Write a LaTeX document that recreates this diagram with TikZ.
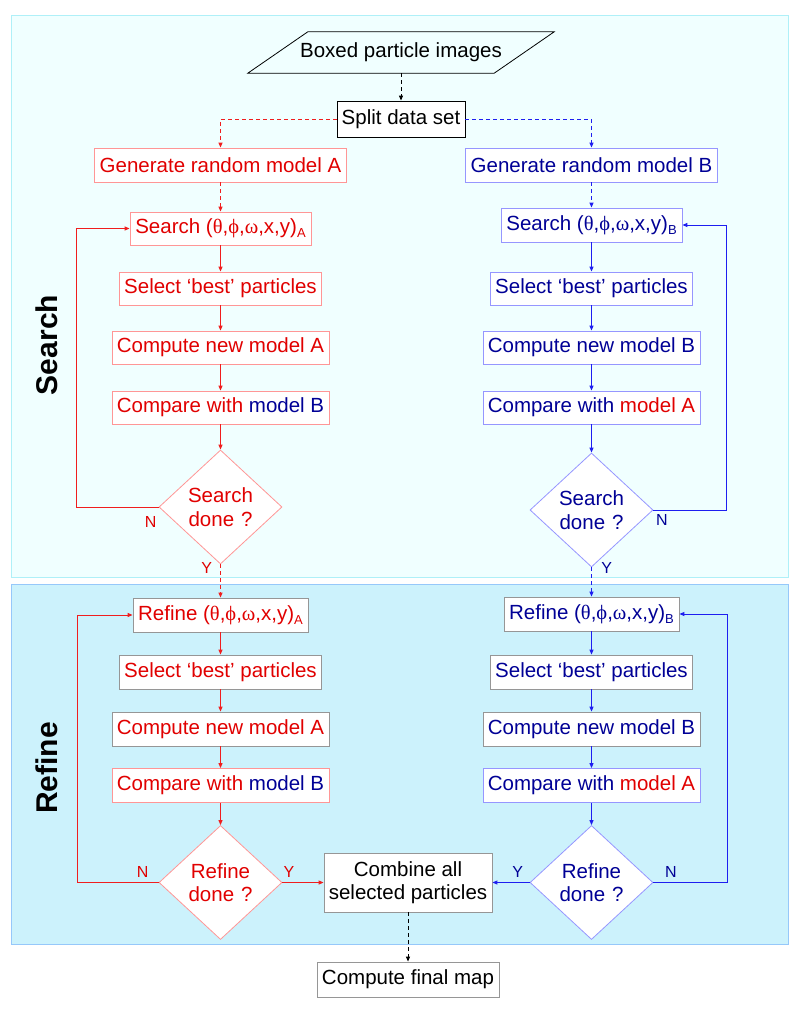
\documentclass[tikz,border=0pt]{standalone}
\usepackage{fontspec}
\setmainfont{Liberation Sans}
\newfontfamily\gkfont{Liberation Serif}
\usetikzlibrary{arrows.meta,shapes.geometric}
\definecolor{tred}{RGB}{225,0,0}
\definecolor{tblue}{RGB}{0,0,150}
\definecolor{rborder}{RGB}{255,150,150}
\definecolor{bborder}{RGB}{150,150,255}
\definecolor{gborder}{RGB}{150,150,150}
\definecolor{lred}{RGB}{240,30,30}
\definecolor{lblue}{RGB}{30,30,240}
\definecolor{searchbg}{RGB}{240,255,255}
\definecolor{searchbd}{RGB}{175,240,248}
\definecolor{refinebg}{RGB}{204,242,252}
\definecolor{refinebd}{RGB}{150,200,250}
\newcommand{\mysub}[1]{\raisebox{-4pt}{\fontsize{13}{13}\selectfont #1}}
\newcommand{\angles}{({\gkfont θ},{\gkfont ϕ},{\gkfont ω},x,y)}
\begin{document}
\begin{tikzpicture}[x=1pt,y=-1pt,
  txt/.style={font=\fontsize{20.5}{23.5}\selectfont},
  box/.style={txt, draw, fill=white, line width=0.8pt, inner sep=0pt, minimum height=34pt, align=center},
  rbox/.style={box, draw=rborder, text=tred},
  bbox/.style={box, draw=bborder, text=tblue},
  grbox/.style={box, draw=gborder, text=tred},
  gbbox/.style={box, draw=gborder, text=tblue},
  gbox/.style={box, draw=gborder, text=black},
  dia/.style={txt, diamond, draw, fill=white, line width=0.8pt, inner sep=0pt, minimum width=123pt, minimum height=114pt, aspect=1.08, text width=70pt, align=center},
  rdia/.style={dia, draw=rborder, text=tred},
  bdia/.style={dia, draw=bborder, text=tblue},
  arr/.style={line width=1pt, -{Triangle[length=5pt,width=4pt]}},
  rl/.style={arr, draw=lred},
  bl/.style={arr, draw=lblue},
  dsh/.style={dash pattern=on 4pt off 3pt},
  yn/.style={font=\fontsize{16}{16}\selectfont, inner sep=0pt},
  sect/.style={font=\fontsize{30}{30}\selectfont\bfseries, rotate=90, inner sep=0pt}
]
\useasboundingbox (0,0) rectangle (800,1009);
% panels
\draw[fill=searchbg, draw=searchbd, line width=1pt] (11,15) rectangle (788,577);
\draw[fill=refinebg, draw=refinebd, line width=1pt] (11,584) rectangle (788,944);
\node[sect] (lsearch) at (47,345) {Search};
\node[sect] (lrefine) at (47,768) {Refine};

% top
\node[txt, minimum width=246pt, minimum height=41pt, inner sep=0pt] (boxed) at (401,52.5) {Boxed particle images};
\draw[line width=0.8pt] ([xshift=-30pt]boxed.south west) -- ([xshift=30pt]boxed.north west) -- ([xshift=30pt]boxed.north east) -- ([xshift=-30pt]boxed.south east) -- cycle;
\node[box, draw=black, minimum width=128pt, minimum height=36pt] (split) at (401,119) {Split data set};
\node[rbox, minimum width=252pt] (genA) at (220.5,165) {Generate random model A};
\node[bbox, minimum width=252pt] (genB) at (591.5,165) {Generate random model B};

% search A
\node[rbox, minimum width=181pt, minimum height=33pt] (searchA) at (220.5,228.5) {Search \angles\mysub{A}};
\node[rbox, minimum width=202pt, minimum height=33pt] (selA) at (220.5,288.5) {Select ‘best’ particles};
\node[rbox, minimum width=217pt, minimum height=33pt] (compA) at (220.5,347.5) {Compute new model A};
\node[rbox, minimum width=217pt, minimum height=33pt] (cmpA) at (220.5,407.5) {Compare with {\color{tblue}model B}};
\node[rdia] (diamA) at (220.5,507) {Search\\done ?};

% search B
\node[bbox, minimum width=181pt] (searchB) at (591.5,225) {Search \angles\mysub{B}};
\node[bbox, minimum width=202pt, minimum height=33pt] (selB) at (591.5,288.5) {Select ‘best’ particles};
\node[bbox, minimum width=217pt, minimum height=33pt] (compB) at (591.5,347.5) {Compute new model B};
\node[bbox, minimum width=217pt, minimum height=33pt] (cmpB) at (591.5,407.5) {Compare with {\color{tred}model A}};
\node[bdia] (diamB) at (591.5,510) {Search\\done ?};

% refine A
\node[grbox, minimum width=175pt] (refA) at (220.5,615) {Refine \angles\mysub{A}};
\node[grbox, minimum width=202pt] (rselA) at (220.5,672) {Select ‘best’ particles};
\node[grbox, minimum width=217pt] (rcompA) at (220.5,729) {Compute new model A};
\node[rbox, minimum width=217pt] (rcmpA) at (220.5,785.5) {Compare with {\color{tblue}model B}};
\node[rdia] (rdiamA) at (220.5,882.5) {Refine\\done ?};

% refine B
\node[gbbox, minimum width=175pt] (refB) at (591.5,614) {Refine \angles\mysub{B}};
\node[gbbox, minimum width=202pt] (rselB) at (591.5,672) {Select ‘best’ particles};
\node[gbbox, minimum width=217pt] (rcompB) at (591.5,729) {Compute new model B};
\node[bbox, minimum width=217pt] (rcmpB) at (591.5,785.5) {Compare with {\color{tred}model A}};
\node[bdia] (rdiamB) at (591.5,882.5) {Refine\\done ?};

% combine / final
\node[gbox, minimum width=168pt, minimum height=59pt] (comb) at (408,882.5) {Combine all\\selected particles};
\node[gbox, minimum width=182pt, minimum height=35pt] (final) at (408,979.5) {Compute final map};

% connectors
\draw[arr, dsh, draw=black] (boxed) -- (split);
\draw[rl, dsh] (split.west) -| (genA.north);
\draw[bl, dsh] (split.east) -| (genB.north);
\draw[rl, dsh] (genA) -- (searchA);
\draw[bl, dsh] (genB) -- (searchB);
\draw[rl] (searchA) -- (selA);
\draw[rl] (selA) -- (compA);
\draw[rl] (compA) -- (cmpA);
\draw[rl] (cmpA) -- (diamA);
\draw[bl] (searchB) -- (selB);
\draw[bl] (selB) -- (compB);
\draw[bl] (compB) -- (cmpB);
\draw[bl] (cmpB) -- (diamB);
\draw[rl] (diamA.west) -- ++(-82,0) |- (searchA.west);
\draw[bl] (diamB.east) -- ++(73,0) |- (searchB.east);
\draw[rl, dsh] (diamA.south) -- (refA.north);
\draw[bl, dsh] (diamB.south) -- (refB.north);
\draw[rl] (refA) -- (rselA);
\draw[rl] (rselA) -- (rcompA);
\draw[rl] (rcompA) -- (rcmpA);
\draw[rl] (rcmpA) -- (rdiamA);
\draw[bl] (refB) -- (rselB);
\draw[bl] (rselB) -- (rcompB);
\draw[bl] (rcompB) -- (rcmpB);
\draw[bl] (rcmpB) -- (rdiamB);
\draw[rl] (rdiamA.west) -- ++(-81,0) |- (refA.west);
\draw[bl] (rdiamB.east) -- ++(74,0) |- (refB.east);
\draw[rl] (rdiamA.east) -- (comb.west);
\draw[bl] (rdiamB.west) -- (comb.east);
\draw[arr, dsh, draw=black] (comb) -- (final);

% Y/N labels
\node[yn, text=tred] (nA) at (150.7,521.7) {N};
\node[yn, text=tred] (yA) at (206.7,568) {Y};
\node[yn, text=tblue] (nB) at (662,520) {N};
\node[yn, text=tblue] (yB) at (606.7,568) {Y};
\node[yn, text=tred] (rnA) at (142.6,871.7) {N};
\node[yn, text=tred] (ryA) at (289,871.7) {Y};
\node[yn, text=tblue] (ryB) at (517.8,871.7) {Y};
\node[yn, text=tblue] (rnB) at (671,871.7) {N};
\end{tikzpicture}
\end{document}
